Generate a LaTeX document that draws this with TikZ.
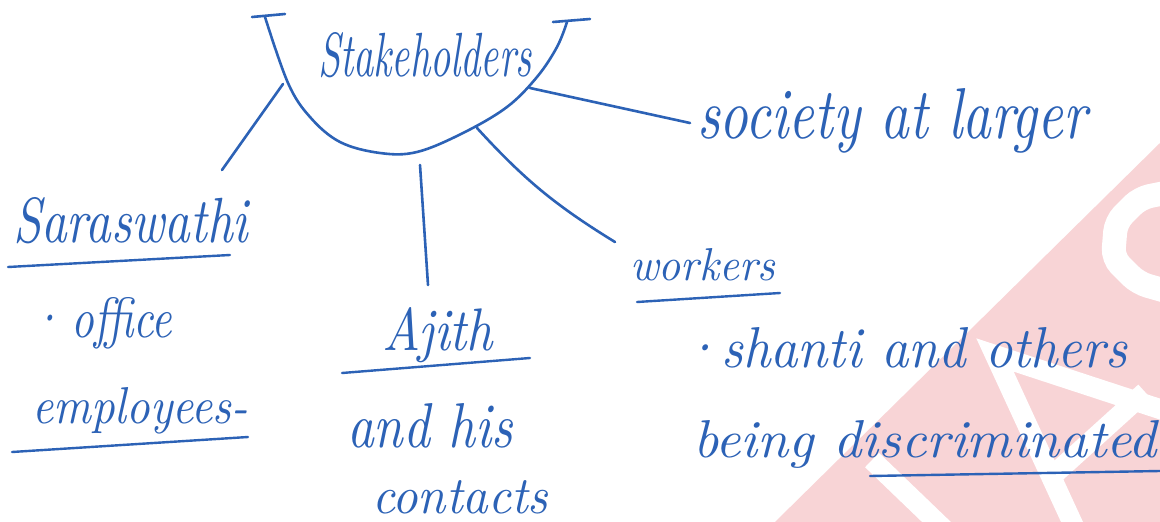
\documentclass[tikz,border=0pt]{standalone}
\usepackage{fontspec}
\usepackage{graphicx}
\definecolor{ink}{RGB}{44,98,182}
\definecolor{wmpink}{RGB}{248,212,214}
\newcommand{\hw}[3]{\resizebox{#1pt}{#2pt}{\itshape #3}}
\begin{document}
\begin{tikzpicture}[x=1pt,y=-1pt,
  txt/.style={inner sep=0pt, outer sep=0pt, text=ink, anchor=base west},
  inkline/.style={draw=ink, line width=2.6pt, line cap=round, line join=round},
  uline/.style={draw=ink, line width=2.4pt, line cap=round},
  wmstroke/.style={draw=white, line width=20pt}]
\useasboundingbox (0,0) rectangle (1160,522);
\fill[white] (0,0) rectangle (1160,522);
% watermark
\begin{scope}
\clip (0,0) rectangle (1160,522);
\fill[wmpink] (1160,143) -- (775,522) -- (1160,522) -- cycle;
\draw[wmstroke, line width=24pt, rounded corners=10pt] (1180,190) -- (1140,198) -- (1116,222) -- (1113,258) -- (1138,283) -- (1180,295);
\draw[wmstroke, line join=miter] (1078,535) -- (995,355) -- (1175,414);
\draw[wmstroke] (1050,478) -- (1145,392);
\draw[wmstroke] (872,460) -- (950,535);
\end{scope}
% cup
\draw[inkline] plot[smooth, tension=0.6] coordinates {(265,17) (288,83) (310,117) (340,142) (380,153) (417,152) (463,133) (507,107) (537,77) (557,47) (567,22)};
\draw[inkline] (252,17) -- (285,14);
\draw[inkline] (553,22) -- (590,19);
% texts
\node[txt] (stake) at (318,76) {\hw{214}{44}{Stakeholders}};
\node[txt] (sara) at (13,242) {\hw{235}{45}{Saraswathi}};
\node[txt] (office) at (30,337) {\hw{142}{40}{·\,office}};
\node[txt] (employ) at (32,423) {\hw{216}{36}{employees-}};
\node[txt] (ajith) at (382,350) {\hw{111}{43}{Ajith}};
\node[txt] (andhis) at (347,447) {\hw{166}{44}{and his}};
\node[txt] (contacts) at (372,513) {\hw{176}{33}{contacts}};
\node[txt] (workers) at (630,280) {\hw{145}{32}{workers}};
\node[txt] (society) at (697,138) {\hw{390}{50}{society at larger}};
\node[txt] (shanti) at (680,367) {\hw{447}{40}{·shanti and others}};
\node[txt] (being) at (693,457) {\hw{464}{37}{being discriminated}};
% underlines
\draw[uline] (8,267) -- (230,255);
\draw[uline] (12,452) -- (248,437);
\draw[uline] (342,373) -- (530,358);
\draw[uline] (637,302) -- (780,293);
\draw[uline] (870,476) -- (1160,471);
% connectors
\coordinate (cupSara) at (283,84);
\coordinate (saraEnd) at (222,170);
\coordinate (cupAjith) at (420,165);
\coordinate (ajithEnd) at (428,285);
\coordinate (cupWork) at (477,128);
\coordinate (workEnd) at (615,242);
\coordinate (cupSoc) at (530,88);
\coordinate (socEnd) at (690,123);
\draw[inkline] (cupSara) -- (saraEnd);
\draw[inkline] (cupAjith) -- (ajithEnd);
\draw[inkline] (cupWork) to[bend right=8] (workEnd);
\draw[inkline] (cupSoc) -- (socEnd);
\end{tikzpicture}
\end{document}
